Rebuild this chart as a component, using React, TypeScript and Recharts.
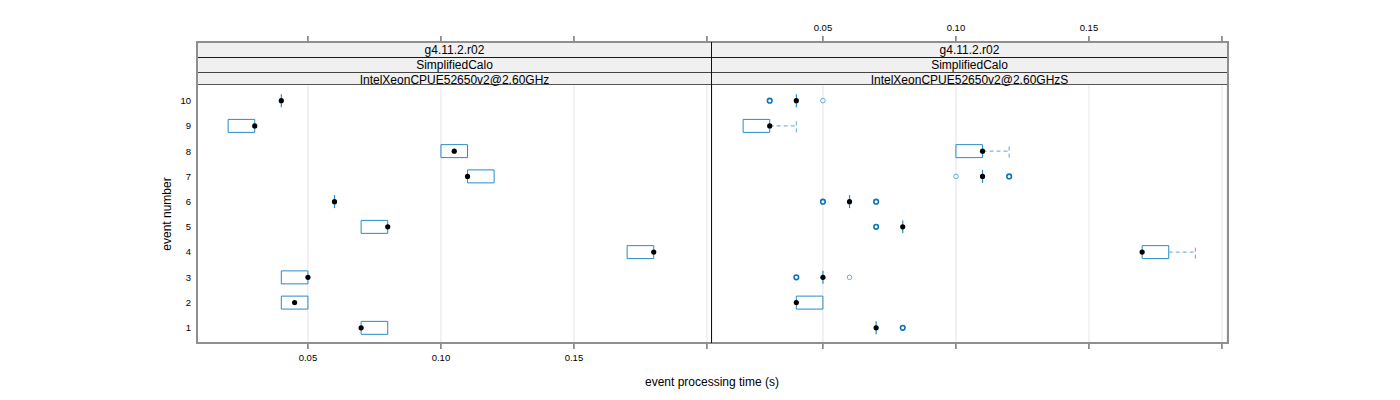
import React from "react";
import {
  ComposedChart,
  XAxis,
  YAxis,
  CartesianGrid,
  Scatter,
  ReferenceArea,
  ReferenceLine,
} from "recharts";

// event numbers (y categories)
const events = [1, 2, 3, 4, 5, 6, 7, 8, 9, 10];
const xTicks = [0.05, 0.1, 0.15, 0.2];
const yTicks = [1, 2, 3, 4, 5, 6, 7, 8, 9, 10];
const stripLevels = ["g4.11.2.r02", "SimplifiedCalo"];
const leftMachine = "IntelXeonCPUE52650v2@2.60GHz";
const rightMachine = "IntelXeonCPUE52650v2@2.60GHzS";

// left panel: box stats per event (seconds)
const leftLo = [0.07, 0.04, 0.04, 0.17, 0.07, 0.06, 0.11, 0.1, 0.02, 0.04];
const leftQ1 = [0.07, 0.04, 0.04, 0.17, 0.07, 0.06, 0.11, 0.1, 0.02, 0.04];
const leftMed = [0.07, 0.045, 0.05, 0.18, 0.08, 0.06, 0.11, 0.105, 0.03, 0.04];
const leftQ3 = [0.08, 0.05, 0.05, 0.18, 0.08, 0.06, 0.12, 0.11, 0.03, 0.04];
const leftHi = [0.08, 0.05, 0.05, 0.18, 0.08, 0.06, 0.12, 0.11, 0.03, 0.04];
const leftOutliers: { ev: number; v: number; n: number }[] = [];

// right panel
const rightLo = [0.07, 0.04, 0.05, 0.17, 0.08, 0.06, 0.11, 0.1, 0.02, 0.04];
const rightQ1 = [0.07, 0.04, 0.05, 0.17, 0.08, 0.06, 0.11, 0.1, 0.02, 0.04];
const rightMed = [0.07, 0.04, 0.05, 0.17, 0.08, 0.06, 0.11, 0.11, 0.03, 0.04];
const rightQ3 = [0.07, 0.05, 0.05, 0.18, 0.08, 0.06, 0.11, 0.11, 0.03, 0.04];
const rightHi = [0.07, 0.05, 0.05, 0.19, 0.08, 0.06, 0.11, 0.12, 0.04, 0.04];
const rightOutliers = [
  { ev: 1, v: 0.08, n: 2 },
  { ev: 3, v: 0.04, n: 2 },
  { ev: 3, v: 0.06, n: 1 },
  { ev: 5, v: 0.07, n: 2 },
  { ev: 6, v: 0.05, n: 2 },
  { ev: 6, v: 0.07, n: 2 },
  { ev: 7, v: 0.1, n: 1 },
  { ev: 7, v: 0.12, n: 2 },
  { ev: 10, v: 0.03, n: 2 },
  { ev: 10, v: 0.05, n: 1 },
];

const X_DOMAIN = [0.0083, 0.2019];
const Y_DOMAIN = [0.4, 12.323];
const HALF = 0.257;
const BOX = "#2a8bc8";
const WHISK = "#5aa8d8";
const FONT = "'Liberation Sans', Arial, sans-serif";

interface PanelProps {
  lo: number[];
  q1: number[];
  med: number[];
  q3: number[];
  hi: number[];
  outliers: { ev: number; v: number; n: number }[];
  left: number;
  showY: boolean;
  bottomLabels: boolean;
  topLabels: boolean;
}

const fmt = (v: number) => (v >= 0.2 ? "" : v.toFixed(2));
const blank = () => "";

function Panel(p: PanelProps) {
  const width = p.showY ? 555 : 515;
  const medPts = events.map((ev, i) => ({ x: p.med[i], y: ev }));
  const outPts = p.outliers.map((o) => ({ x: o.v, y: o.ev, n: o.n }));
  const ax = { xAxisId: "b", yAxisId: "y" };
  const tickStyle = { fontSize: 9.5, fill: "#000", fontFamily: FONT };

  return (
    <div style={{ position: "absolute", left: p.left, top: 0 }}>
      <ComposedChart
        width={width}
        height={400}
        margin={{ top: 0, right: 0, bottom: 0, left: 0 }}
      >
        <CartesianGrid
          xAxisId="b"
          yAxisId="y"
          horizontal={false}
          stroke="#e6e6e6"
        />
        <XAxis
          xAxisId="b"
          dataKey="x"
          type="number"
          domain={X_DOMAIN}
          ticks={xTicks}
          interval={0}
          height={57}
          tickSize={6}
          tickMargin={5}
          axisLine={false}
          tickLine={{ stroke: "#333" }}
          tick={tickStyle}
          tickFormatter={p.bottomLabels ? fmt : blank}
        />
        <XAxis
          xAxisId="t"
          orientation="top"
          dataKey="x"
          type="number"
          domain={X_DOMAIN}
          allowDataOverflow
          ticks={xTicks}
          interval={0}
          height={42}
          tickSize={6}
          tickMargin={5}
          axisLine={false}
          tickLine={{ stroke: "#333" }}
          tick={tickStyle}
          tickFormatter={p.topLabels ? fmt : blank}
        />
        <YAxis
          yAxisId="y"
          dataKey="y"
          type="number"
          domain={Y_DOMAIN}
          ticks={yTicks}
          interval={0}
          width={40}
          hide={!p.showY}
          axisLine={false}
          tickLine={false}
          tickSize={0}
          tickMargin={6}
          tick={tickStyle}
        />
        {events.map((ev, i) =>
          p.q3[i] > p.q1[i] ? (
            <ReferenceArea
              key={"box" + ev}
              {...ax}
              x1={p.q1[i]}
              x2={p.q3[i]}
              y1={ev - HALF}
              y2={ev + HALF}
              fill="none"
              fillOpacity={0}
              stroke={BOX}
              strokeWidth={1}
            />
          ) : (
            <ReferenceLine
              key={"box" + ev}
              {...ax}
              segment={[
                { x: p.q1[i], y: ev - HALF },
                { x: p.q1[i], y: ev + HALF },
              ]}
              stroke={BOX}
              strokeWidth={1.2}
            />
          )
        )}
        {events.map((ev, i) =>
          p.hi[i] > p.q3[i] ? (
            <ReferenceLine
              key={"wh" + ev}
              {...ax}
              segment={[
                { x: p.q3[i], y: ev },
                { x: p.hi[i], y: ev },
              ]}
              stroke={WHISK}
              strokeDasharray="4 3"
            />
          ) : null
        )}
        {events.map((ev, i) =>
          p.hi[i] > p.q3[i] ? (
            <ReferenceLine
              key={"cap" + ev}
              {...ax}
              segment={[
                { x: p.hi[i], y: ev - HALF },
                { x: p.hi[i], y: ev + HALF },
              ]}
              stroke={WHISK}
              strokeDasharray="4 3"
            />
          ) : null
        )}
        {events.map((ev, i) =>
          p.lo[i] < p.q1[i] ? (
            <ReferenceLine
              key={"lw" + ev}
              {...ax}
              segment={[
                { x: p.lo[i], y: ev },
                { x: p.q1[i], y: ev },
              ]}
              stroke={WHISK}
              strokeDasharray="4 3"
            />
          ) : null
        )}
        <Scatter
          {...ax}
          data={outPts}
          dataKey="y"
          isAnimationActive={false}
          shape={(s: any) => (
            <circle
              cx={s.cx}
              cy={s.cy}
              r={2.3}
              fill="none"
              stroke={s.payload.n > 1 ? "#0a74bb" : "#4ea3dc"}
              strokeWidth={s.payload.n > 1 ? 1.6 : 0.9}
            />
          )}
        />
        <Scatter
          {...ax}
          data={medPts}
          dataKey="y"
          isAnimationActive={false}
          shape={(s: any) => (
            <circle cx={s.cx} cy={s.cy} r={2.6} fill="#000" />
          )}
        />
      </ComposedChart>
    </div>
  );
}

function Strip({ left, machine }: { left: number; machine: string }) {
  const labels = [...stripLevels, machine];
  const borders = ["#8f8f8f", "#1a1a1a", "#444"];
  return (
    <div
      style={{
        position: "absolute",
        left,
        top: 42,
        width: 515,
        height: 43,
        background: "#f0f0f0",
        borderBottom: "1px solid #555",
        boxSizing: "border-box",
      }}
    >
      {labels.map((t, i) => (
        <div
          key={t + i}
          style={{
            height: 14,
            lineHeight: "14px",
            borderTop: `1px solid ${borders[i]}`,
            textAlign: "center",
            fontSize: 12,
            color: "#000",
          }}
        >
          {t}
        </div>
      ))}
    </div>
  );
}

export default function App() {
  return (
    <div
      style={{
        position: "absolute",
        left: 0,
        top: 0,
        width: 1400,
        height: 400,
        background: "#fff",
        fontFamily: FONT,
      }}
    >
      <Panel
        lo={leftLo}
        q1={leftQ1}
        med={leftMed}
        q3={leftQ3}
        hi={leftHi}
        outliers={leftOutliers}
        left={157}
        showY
        bottomLabels
        topLabels={false}
      />
      <Panel
        lo={rightLo}
        q1={rightQ1}
        med={rightMed}
        q3={rightQ3}
        hi={rightHi}
        outliers={rightOutliers}
        left={712}
        showY={false}
        bottomLabels={false}
        topLabels
      />
      <Strip left={197} machine={leftMachine} />
      <Strip left={712} machine={rightMachine} />
      {/* panel frames */}
      <div
        style={{
          position: "absolute",
          left: 196,
          top: 41,
          width: 1033,
          height: 303,
          border: "2px solid #8f8f8f",
          boxSizing: "border-box",
          pointerEvents: "none",
        }}
      />
      <div
        style={{
          position: "absolute",
          left: 711,
          top: 42,
          width: 1,
          height: 301,
          background: "#111",
        }}
      />
      <div
        style={{
          position: "absolute",
          left: 112,
          top: 207,
          width: 110,
          textAlign: "center",
          fontSize: 12,
          transform: "rotate(-90deg)",
          transformOrigin: "55px 7px",
          lineHeight: "14px",
        }}
      >
        event number
      </div>
      <div
        style={{
          position: "absolute",
          left: 612,
          top: 375,
          width: 200,
          textAlign: "center",
          fontSize: 12,
          lineHeight: "14px",
        }}
      >
        event processing time (s)
      </div>
    </div>
  );
}
